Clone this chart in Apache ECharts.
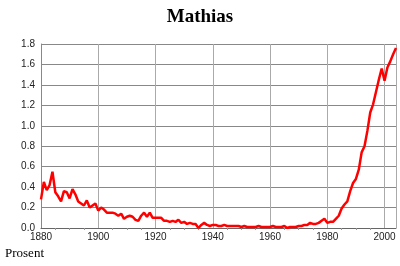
<!DOCTYPE html>
<html><head><meta charset="utf-8">
<script src="https://cdn.jsdelivr.net/npm/echarts@6/dist/echarts.min.js"></script>
<style>html,body{margin:0;padding:0;background:#fff}#c{width:400px;height:266px}</style>
</head><body><div id="c"></div>
<script>
var startYear = 1880;
var values = [
0.28,0.45,0.37,0.42,0.55,0.35,0.31,0.26,0.36,0.35,
0.29,0.38,0.33,0.26,0.24,0.22,0.27,0.20,0.22,0.24,
0.17,0.20,0.18,0.15,0.15,0.15,0.14,0.12,0.14,0.09,
0.11,0.12,0.11,0.08,0.07,0.12,0.15,0.11,0.15,0.10,
0.10,0.10,0.10,0.07,0.07,0.06,0.07,0.06,0.08,0.05,
0.06,0.04,0.05,0.04,0.04,0.00,0.03,0.05,0.03,0.02,
0.03,0.03,0.02,0.02,0.03,0.02,0.02,0.02,0.02,0.02,
0.01,0.02,0.01,0.01,0.01,0.01,0.02,0.01,0.01,0.01,
0.01,0.02,0.01,0.01,0.01,0.02,0.00,0.01,0.01,0.01,
0.02,0.02,0.03,0.03,0.05,0.04,0.04,0.05,0.07,0.09,
0.05,0.06,0.06,0.09,0.12,0.19,0.23,0.26,0.36,0.44,
0.48,0.57,0.74,0.80,0.95,1.13,1.21,1.33,1.45,1.56,
1.44,1.57,1.63,1.70,1.76
];
var titleText = 'Mathias';
var yAxisName = 'Prosent';
var data = values.map(function(v,i){return [startYear+i, v];});
var chart = echarts.init(document.getElementById('c'), null, {renderer:'canvas'});
chart.setOption({
  animation:false,
  title:{text:titleText,left:'center',top:3,textStyle:{fontFamily:'Liberation Serif',fontWeight:'bold',fontSize:19,color:'#000'}},
  graphic:[{type:'text',left:5,top:247,style:{text:yAxisName,font:'13px "Liberation Serif"',fill:'#000'}}],
  grid:{left:41,right:4,top:44,bottom:38},
  xAxis:{type:'value',min:1880,max:2004,interval:20,
    axisLine:{lineStyle:{color:'#666',width:1}},
    axisTick:{show:false},
    minorTick:{show:true,splitNumber:4,length:2,lineStyle:{color:'#999'}},
    axisLabel:{color:'#222',fontFamily:'Liberation Sans',fontSize:10,margin:4,
      formatter:function(v){return (v%20===0)?String(v):'';}},
    splitLine:{show:true,lineStyle:{color:'#aaa',width:1}}},
  yAxis:{type:'value',min:0,max:1.8,interval:0.2,
    axisLine:{show:true,lineStyle:{color:'#888',width:1}},
    axisTick:{show:false},
    axisLabel:{color:'#222',fontFamily:'Liberation Sans',fontSize:10,margin:6,
      formatter:function(v){return v.toFixed(1);}},
    splitLine:{show:true,lineStyle:{color:'#888',width:1}}},
  series:[{type:'line',data:data,showSymbol:false,symbol:'none',
    lineStyle:{color:'#ff0000',width:2.5},z:5}]
});
</script></body></html>
